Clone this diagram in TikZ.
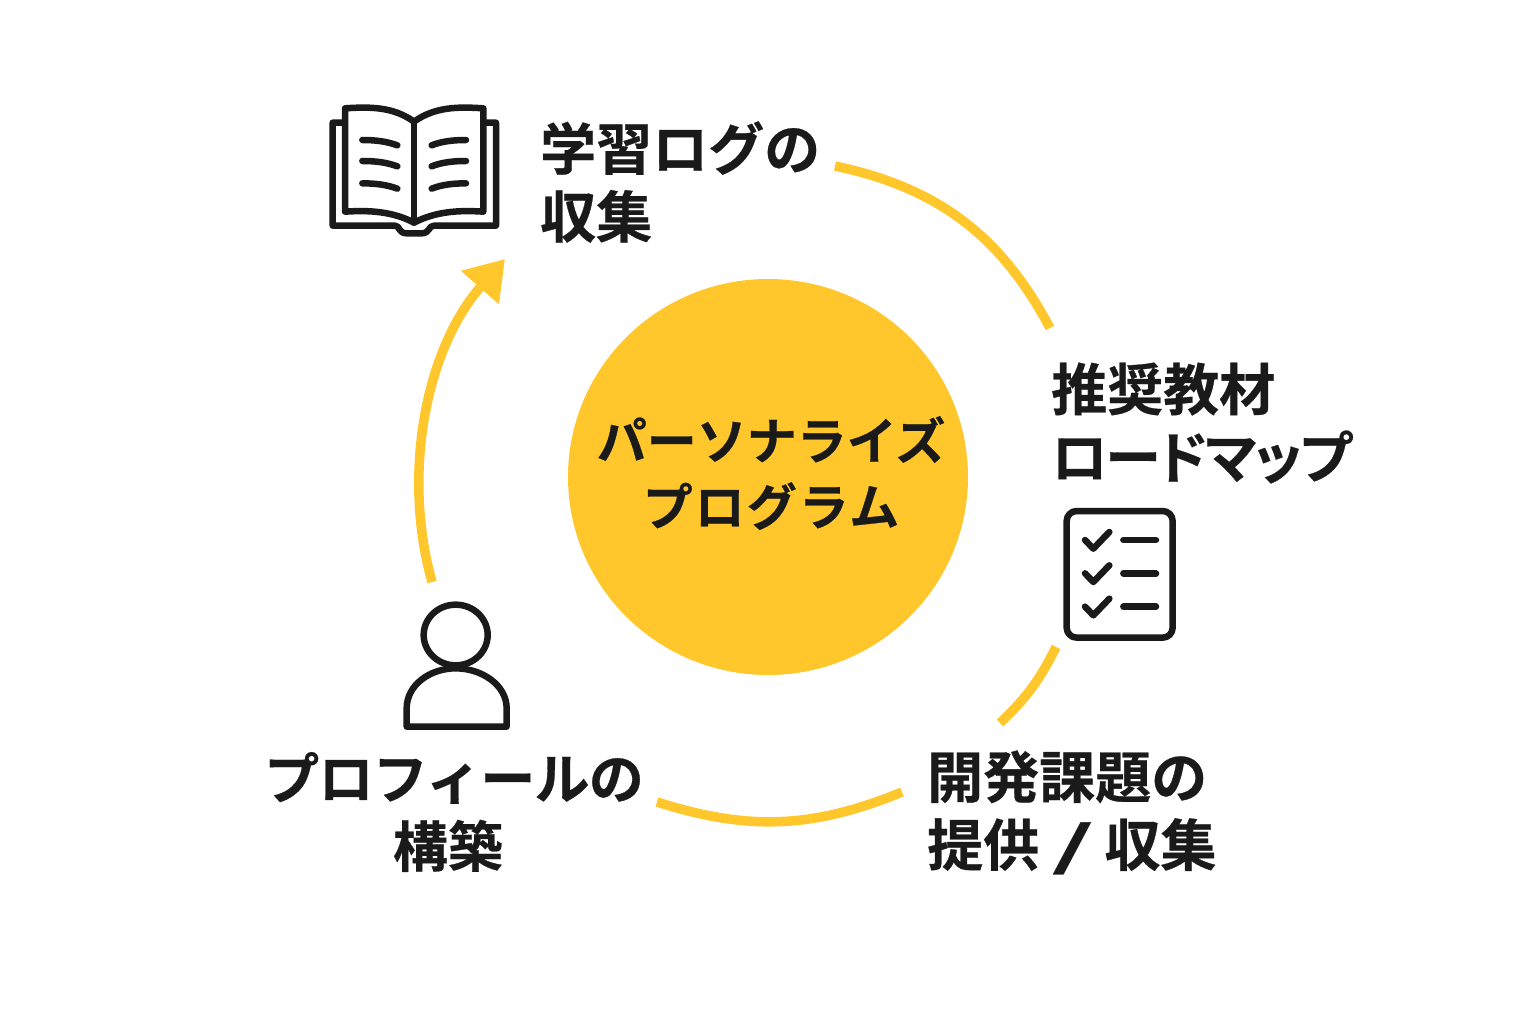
\documentclass[tikz,border=0pt]{standalone}
\usepackage{fontspec}
\usetikzlibrary{arrows.meta}
\setmainfont{Noto Sans CJK JP Bold}[FakeBold=0.5]
\definecolor{ringyellow}{HTML}{FFC72C}
\definecolor{inkblack}{HTML}{1A1A1A}
\tikzset{
  ring/.style={line width=9.5pt, draw=ringyellow},
  icon/.style={line width=6.5pt, draw=inkblack, line cap=round, line join=round},
  step label/.style={text=inkblack, inner sep=0pt, font=\fontsize{56}{68}\selectfont},
  hub label/.style={text=inkblack, inner sep=0pt, align=center, font=\fontsize{50}{66}\selectfont}
}
\begin{document}
\begin{tikzpicture}[x=1pt, y=-1pt]
\useasboundingbox (0,0) rectangle (1536,1024);
% Centre
\fill [ringyellow] (768,477) ellipse [x radius=200, y radius=198];
\node [hub label] (hub) at (771,473) {パーソナライズ\\{\addfontfeature{LetterSpace=4}プログラム}};
% Labels
\node [step label, align=left, anchor=west] (logs) at (540,182) {学習ログの\\収集};
\node [step label, align=left, anchor=west] (materials) at (1051,423) {推奨教材\\{\addfontfeature{RawFeature=+palt,LetterSpace=-4}ロードマップ}};
\node [step label, align=left, anchor=west] (tasks) at (927,813) {開発課題の\\提供\kern12pt{\addfontfeature{FakeBold=0}\scalebox{2}[.95]{/}}\kern10pt収集};
\node [step label, align=center, font=\fontsize{55}{68}\selectfont] (profile) at (454,812) {{\addfontfeature{LetterSpace=-1.3}プロフィールの}\\構築\kern12pt};
% Ring
\coordinate (a1) at (835,166);
\coordinate (a2) at (1050,328);
\coordinate (b1) at (1056,647);
\coordinate (b2) at (1000,723);
\coordinate (c1) at (902,792);
\coordinate (c2) at (657,802);
\coordinate (d1) at (432,582);
\coordinate (d2) at (505,259);
\draw [ring] (a1) to [bend left=25] (a2);
\draw [ring] (b1) to [bend left=10] (b2);
\draw [ring] (c1) to [bend left=20] (c2);
\draw [ring, -{Triangle[length=38pt, width=48pt]}] (d1) .. controls (402,475) and (425,350) .. (d2);
% Book
\begin{scope}[shift={(310,90)}, scale=1/3]
\draw [icon] (100,98) -- (68,98) -- (68,407) -- (255,407) .. controls (270,407) and (265,430) .. (290,430) -- (335,430) .. controls (360,430) and (355,407) .. (372,407) -- (558,407) -- (558,98) -- (525,98);
\draw [icon] (312,95) .. controls (250,50) and (180,50) .. (105,55) -- (105,365) .. controls (180,360) and (250,365) .. (312,398) .. controls (375,365) and (445,360) .. (520,365) -- (520,55) .. controls (445,50) and (375,50) .. (312,95) -- cycle;
\draw [icon] (312,95) -- (312,398);
\foreach \y in {150,213,280} {
  \draw [icon] (157,\y) .. controls (195,\y) and (230,\y+4) .. (262,\y+16);
  \draw [icon] (468,\y) .. controls (430,\y) and (395,\y+4) .. (365,\y+16);
}
\end{scope}
% Checklist
\begin{scope}[shift={(1050,495)}, scale=1/3]
\draw [icon, rounded corners=10pt] (50,48) rectangle (368,428);
\foreach \y in {135,235,335} {
  \draw [icon] (105,\y) -- (130,\y+26) -- (178,\y-24);
  \draw [icon] (220,\y) -- (318,\y);
}
\end{scope}
% Person
\begin{scope}[shift={(390,590)}, scale=1/3]
\draw [icon] (197,135) ellipse [x radius=96, y radius=91];
\draw [icon] (50,410) -- (50,355) .. controls (50,285) and (120,235) .. (197,235) .. controls (275,235) and (350,285) .. (350,355) -- (350,410) -- cycle;
\end{scope}
\end{tikzpicture}
\end{document}
